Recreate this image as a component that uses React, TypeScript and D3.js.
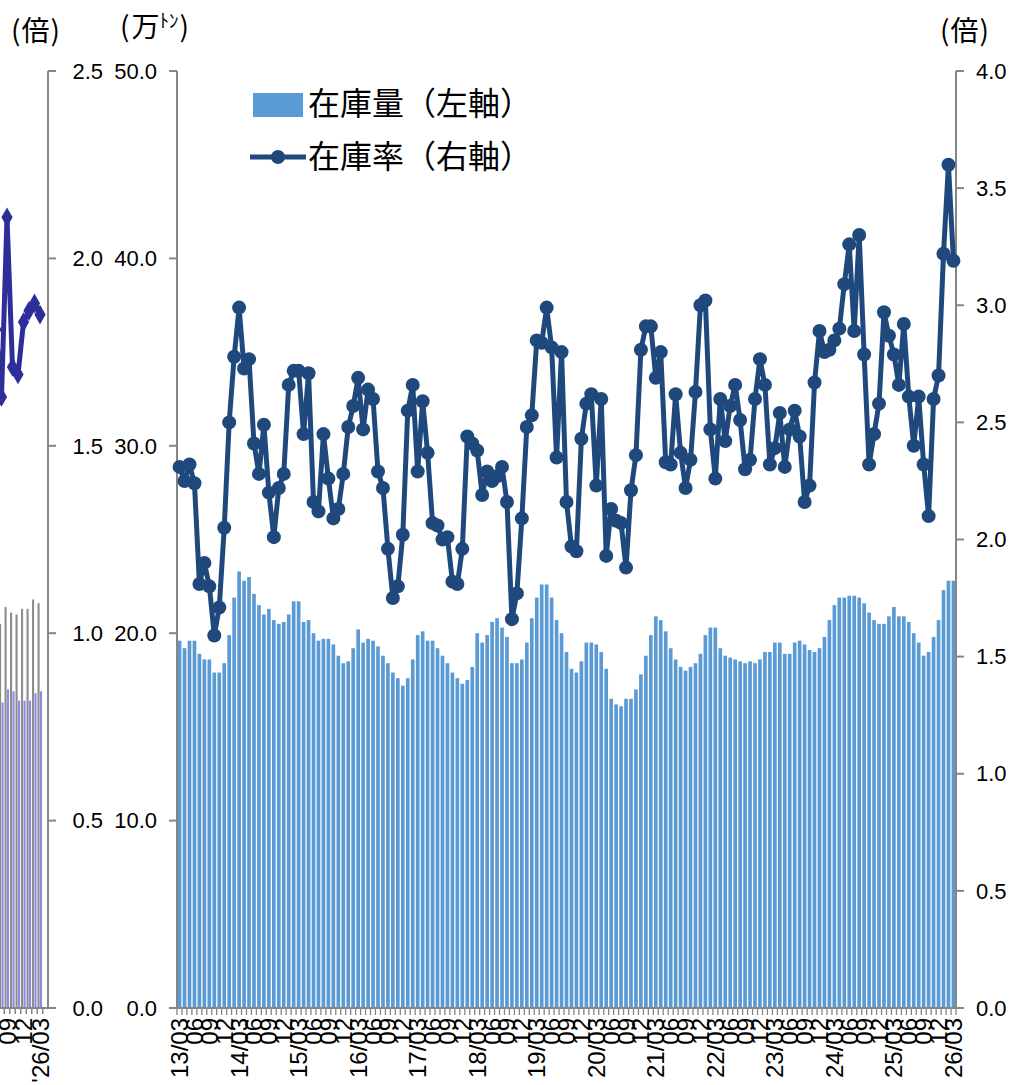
import React from "react";
import * as d3 from "d3";

// ---- Data (main chart): monthly 2013/03 .. 2026/03 ----
const startYear = 13;
const monthCount = 157;
const categories: string[] = d3.range(monthCount).map((i) => {
  const m = ((2 + i) % 12) + 1;
  const y = startYear + Math.floor((2 + i) / 12);
  return `${String(y).padStart(2, "0")}/${String(m).padStart(2, "0")}`;
});

// 在庫量 (万トン, left axis)
const stock: number[] = [
  19.6, 19.2, 19.6, 19.6, 18.9, 18.6, 18.6, 17.9, 17.9, 18.4, 19.9, 21.9,
  23.3, 22.8, 23.0, 22.1, 21.5, 21.0, 21.3, 20.7, 20.5, 20.6, 21.0, 21.7,
  21.7, 20.6, 20.7, 20.0, 19.6, 19.7, 19.7, 19.4, 18.8, 18.4, 18.5, 19.2,
  20.2, 19.5, 19.7, 19.6, 19.3, 18.8, 18.4, 17.9, 17.6, 17.2, 17.6, 18.6,
  19.9, 20.1, 19.6, 19.6, 19.2, 18.8, 18.4, 17.9, 17.6, 17.3, 17.5, 18.2,
  20.0, 19.5, 19.9, 20.6, 20.8, 20.3, 19.8, 18.4, 18.4, 18.6, 19.5, 20.8,
  21.9, 22.6, 22.6, 21.9, 20.7, 20.0, 19.0, 18.1, 17.9, 18.5, 19.5, 19.5,
  19.4, 19.0, 18.1, 16.5, 16.2, 16.1, 16.5, 16.5, 17.0, 17.8, 18.8, 19.9,
  20.9, 20.7, 20.1, 19.2, 18.6, 18.2, 18.0, 18.2, 18.4, 18.9, 19.9, 20.3,
  20.3, 19.2, 18.8, 18.7, 18.6, 18.5, 18.4, 18.5, 18.4, 18.6, 19.0, 19.0,
  19.5, 19.5, 18.9, 18.9, 19.5, 19.6, 19.4, 19.1, 19.0, 19.2, 19.8, 20.7,
  21.5, 21.9, 21.9, 22.0, 22.0, 21.9, 21.6, 21.1, 20.7, 20.5, 20.5, 20.9,
  21.4, 20.9, 20.9, 20.6, 20.0, 19.5, 18.8, 19.0, 19.8, 20.7, 22.3, 22.8,
  22.8,
];

// 在庫率 (倍, right axis)
const ratio: number[] = [
  2.31, 2.25, 2.32, 2.24, 1.81, 1.90, 1.80, 1.59, 1.71, 2.05, 2.50, 2.78,
  2.99, 2.73, 2.77, 2.41, 2.28, 2.49, 2.20, 2.01, 2.22, 2.28, 2.66, 2.72,
  2.72, 2.45, 2.71, 2.16, 2.12, 2.45, 2.26, 2.09, 2.13, 2.28, 2.48, 2.57,
  2.69, 2.47, 2.64, 2.60, 2.29, 2.22, 1.96, 1.75, 1.80, 2.02, 2.55, 2.66,
  2.29, 2.59, 2.37, 2.07, 2.06, 2.00, 2.01, 1.82, 1.81, 1.96, 2.44, 2.41,
  2.38, 2.19, 2.29, 2.25, 2.27, 2.31, 2.16, 1.66, 1.77, 2.09, 2.48, 2.53,
  2.85, 2.84, 2.99, 2.82, 2.35, 2.80, 2.16, 1.97, 1.95, 2.43, 2.58, 2.62,
  2.23, 2.60, 1.93, 2.13, 2.08, 2.07, 1.88, 2.21, 2.36, 2.81, 2.91, 2.91,
  2.69, 2.80, 2.33, 2.32, 2.62, 2.37, 2.22, 2.34, 2.63, 3.00, 3.02, 2.47,
  2.26, 2.60, 2.42, 2.57, 2.66, 2.51, 2.30, 2.34, 2.60, 2.77, 2.66, 2.32,
  2.39, 2.54, 2.31, 2.47, 2.55, 2.44, 2.16, 2.23, 2.67, 2.89, 2.80, 2.81,
  2.85, 2.90, 3.09, 3.26, 2.89, 3.30, 2.79, 2.32, 2.45, 2.58, 2.97, 2.87,
  2.79, 2.66, 2.92, 2.61, 2.40, 2.61, 2.32, 2.10, 2.60, 2.70, 3.22, 3.60,
  3.19,
];

const leftTicks = [0, 10, 20, 30, 40, 50];
const rightTicks = [0, 0.5, 1.0, 1.5, 2.0, 2.5, 3.0, 3.5, 4.0];

// ---- Data (neighbouring chart fragment at the far left) ----
const fragCategories = ["25/07", "08", "09", "10", "11", "12", "26/01", "02", "03"];
const fragLabels = ["", "", "09", "", "", "12", "", "", "'26/03"];
const fragGray = [20.8, 20.5, 21.4, 21.1, 21.0, 21.3, 21.3, 21.8, 21.6];
const fragPurple = [16.5, 16.3, 17.0, 16.9, 16.4, 16.4, 16.4, 16.8, 16.9];
const fragLine = [1.81, 1.63, 2.11, 1.71, 1.69, 1.83, 1.86, 1.88, 1.85];
const fragTicks = [0, 0.5, 1.0, 1.5, 2.0, 2.5];

const W = 1019;
const H = 1085;
const TOP = 71;
const BOTTOM = 1008;
const X0 = 177;
const X1 = 956;
const FRAG_AXIS = 48;

const BAR = "#5B9BD5";
const LINE = "#1F497D";
const AXIS = "#868686";
const NUMFONT = "'Liberation Sans', Arial, sans-serif";
const JPFONT = "'Noto Sans CJK JP', 'Noto Sans', sans-serif";

export default function App() {
  const x = d3
    .scaleBand<number>()
    .domain(d3.range(monthCount))
    .range([X0, X1])
    .paddingInner(0.26)
    .paddingOuter(0.15);
  const yL = d3.scaleLinear().domain([0, 50]).range([BOTTOM, TOP]);
  const yR = d3.scaleLinear().domain([0, 4]).range([BOTTOM, TOP]);
  const cx = (i: number) => (x(i) as number) + x.bandwidth() / 2;
  const line = d3
    .line<number>()
    .x((_, i) => cx(i))
    .y((d) => yR(d));

  // fragment scales
  const fx = d3
    .scaleBand<number>()
    .domain(d3.range(fragCategories.length))
    .range([-6.75, 42.75])
    .padding(0);
  const fyBar = d3.scaleLinear().domain([0, 50]).range([BOTTOM, TOP]);
  const fyLine = d3.scaleLinear().domain([0, 2.5]).range([BOTTOM, TOP]);
  const fcx = (i: number) => (fx(i) as number) + fx.bandwidth() / 2;
  const fline = d3
    .line<number>()
    .x((_, i) => fcx(i))
    .y((d) => fyLine(d));
  const diamond = d3.symbol().type(d3.symbolDiamond).size(110);

  const fbw = fx.bandwidth();

  return (
    <svg
      width={W}
      height={H}
      style={{ position: "absolute", left: 0, top: 0, background: "#fff" }}
    >
      <rect x={0} y={0} width={W} height={H} fill="#fff" />

      {/* ---------- fragment of neighbouring chart ---------- */}
      <g>
        {fragGray.map((v, i) => (
          <rect
            key={"fg" + i}
            x={(fx(i) as number) + fbw * 0.05}
            y={fyBar(v)}
            width={fbw * 0.38}
            height={BOTTOM - fyBar(v)}
            fill="#8C8C8C"
          />
        ))}
        {fragPurple.map((v, i) => (
          <rect
            key={"fp" + i}
            x={(fx(i) as number) + fbw * 0.5}
            y={fyBar(v)}
            width={fbw * 0.38}
            height={BOTTOM - fyBar(v)}
            fill="#8B8BE6"
          />
        ))}
        <path
          d={fline(fragLine) || ""}
          fill="none"
          stroke="#2E2E9A"
          strokeWidth={5}
          strokeLinejoin="round"
        />
        {fragLine.map((v, i) => (
          <path
            key={"fd" + i}
            d={diamond() || ""}
            transform={`translate(${fcx(i)},${fyLine(v)})`}
            fill="#2E2E9A"
          />
        ))}
        {/* x axis of fragment */}
        <line x1={0} x2={FRAG_AXIS} y1={BOTTOM} y2={BOTTOM} stroke={AXIS} strokeWidth={2} />
        {d3.range(fragCategories.length + 1).map((i) => {
          const xx = -6.75 + i * fbw;
          return (
            <line key={"ft" + i} x1={xx} x2={xx} y1={BOTTOM} y2={BOTTOM + 6} stroke={AXIS} strokeWidth={1.5} />
          );
        })}
        {fragLabels.map((t, i) =>
          t ? (
            <text
              key={"fl" + i}
              transform={`translate(${fcx(i) + 8.5},${BOTTOM + 10}) rotate(-90)`}
              textAnchor="end"
              fontFamily={NUMFONT}
              fontSize={24}
              fill="#000"
            >
              {t}
            </text>
          ) : null
        )}
        {/* fragment right axis */}
        <line x1={FRAG_AXIS} x2={FRAG_AXIS} y1={TOP} y2={BOTTOM} stroke={AXIS} strokeWidth={2} />
        {fragTicks.map((t) => (
          <g key={"fyt" + t}>
            <line x1={FRAG_AXIS} x2={FRAG_AXIS + 8} y1={fyLine(t)} y2={fyLine(t)} stroke={AXIS} strokeWidth={2} />
            <text
              x={103}
              y={fyLine(t)}
              dy="0.35em"
              textAnchor="end"
              fontFamily={NUMFONT}
              fontSize={22}
              fill="#000"
            >
              {t.toFixed(1)}
            </text>
          </g>
        ))}
        <text x={11} y={41} fontFamily={JPFONT} fontSize={28} fill="#000">
          (<tspan dx={1}>倍</tspan><tspan dx={1}>)</tspan>
        </text>
      </g>

      {/* ---------- main chart ---------- */}
      {stock.map((v, i) => (
        <rect
          key={"b" + i}
          x={x(i)}
          y={yL(v)}
          width={x.bandwidth()}
          height={BOTTOM - yL(v)}
          fill={BAR}
        />
      ))}

      {/* axes */}
      <line x1={X0} x2={X0} y1={TOP} y2={BOTTOM} stroke={AXIS} strokeWidth={2} />
      <line x1={X1} x2={X1} y1={TOP} y2={BOTTOM} stroke={AXIS} strokeWidth={2} />
      <line x1={X0} x2={X1} y1={BOTTOM} y2={BOTTOM} stroke={AXIS} strokeWidth={2} />
      {d3.range(monthCount + 1).map((i) => {
        const xx = X0 + (X1 - X0) * (i / monthCount);
        return (
          <line key={"xt" + i} x1={xx} x2={xx} y1={BOTTOM} y2={BOTTOM + 7} stroke={AXIS} strokeWidth={1.3} />
        );
      })}
      {categories.map((c, i) => {
        if (i % 3 !== 0) return null;
        const label = c.endsWith("/03") ? c : c.slice(3);
        return (
          <text
            key={"xl" + i}
            transform={`translate(${cx(i) + 8.5},${BOTTOM + 10}) rotate(-90)`}
            textAnchor="end"
            fontFamily={NUMFONT}
            fontSize={24}
            fill="#000"
          >
            {label}
          </text>
        );
      })}

      {leftTicks.map((t) => (
        <g key={"yl" + t}>
          <line x1={X0 - 8} x2={X0} y1={yL(t)} y2={yL(t)} stroke={AXIS} strokeWidth={2} />
          <text
            x={157}
            y={yL(t)}
            dy="0.35em"
            textAnchor="end"
            fontFamily={NUMFONT}
            fontSize={22}
            fill="#000"
          >
            {t.toFixed(1)}
          </text>
        </g>
      ))}
      {rightTicks.map((t) => (
        <g key={"yr" + t}>
          <line x1={X1} x2={X1 + 8} y1={yR(t)} y2={yR(t)} stroke={AXIS} strokeWidth={2} />
          <text
            x={976}
            y={yR(t)}
            dy="0.35em"
            textAnchor="start"
            fontFamily={NUMFONT}
            fontSize={22}
            fill="#000"
          >
            {t.toFixed(1)}
          </text>
        </g>
      ))}

      {/* line series */}
      <path
        d={line(ratio) || ""}
        fill="none"
        stroke={LINE}
        strokeWidth={5}
        strokeLinejoin="round"
      />
      {ratio.map((v, i) => (
        <circle key={"c" + i} cx={cx(i)} cy={yR(v)} r={7} fill={LINE} />
      ))}

      {/* unit labels */}
      <text x={120} y={37} fontFamily={JPFONT} fontSize={28} fill="#000">
        (<tspan dx={2}>万</tspan>
        <tspan fontSize={19} dy={-9}>ﾄﾝ</tspan>
        <tspan dy={9} dx={1}>)</tspan>
      </text>
      <text x={940} y={41} fontFamily={JPFONT} fontSize={28} fill="#000">
        (<tspan dx={1}>倍</tspan><tspan dx={1}>)</tspan>
      </text>

      {/* legend */}
      <rect x={253} y={93} width={50} height={24} fill={BAR} />
      <text x={308} y={104} dy="0.35em" fontFamily={JPFONT} fontSize={32} fill="#000">
        在庫量（左軸）
      </text>
      <line x1={250} x2={306} y1={157} y2={157} stroke={LINE} strokeWidth={5} />
      <circle cx={278} cy={157} r={7} fill={LINE} />
      <text x={308} y={157} dy="0.35em" fontFamily={JPFONT} fontSize={32} fill="#000">
        在庫率（右軸）
      </text>
    </svg>
  );
}
